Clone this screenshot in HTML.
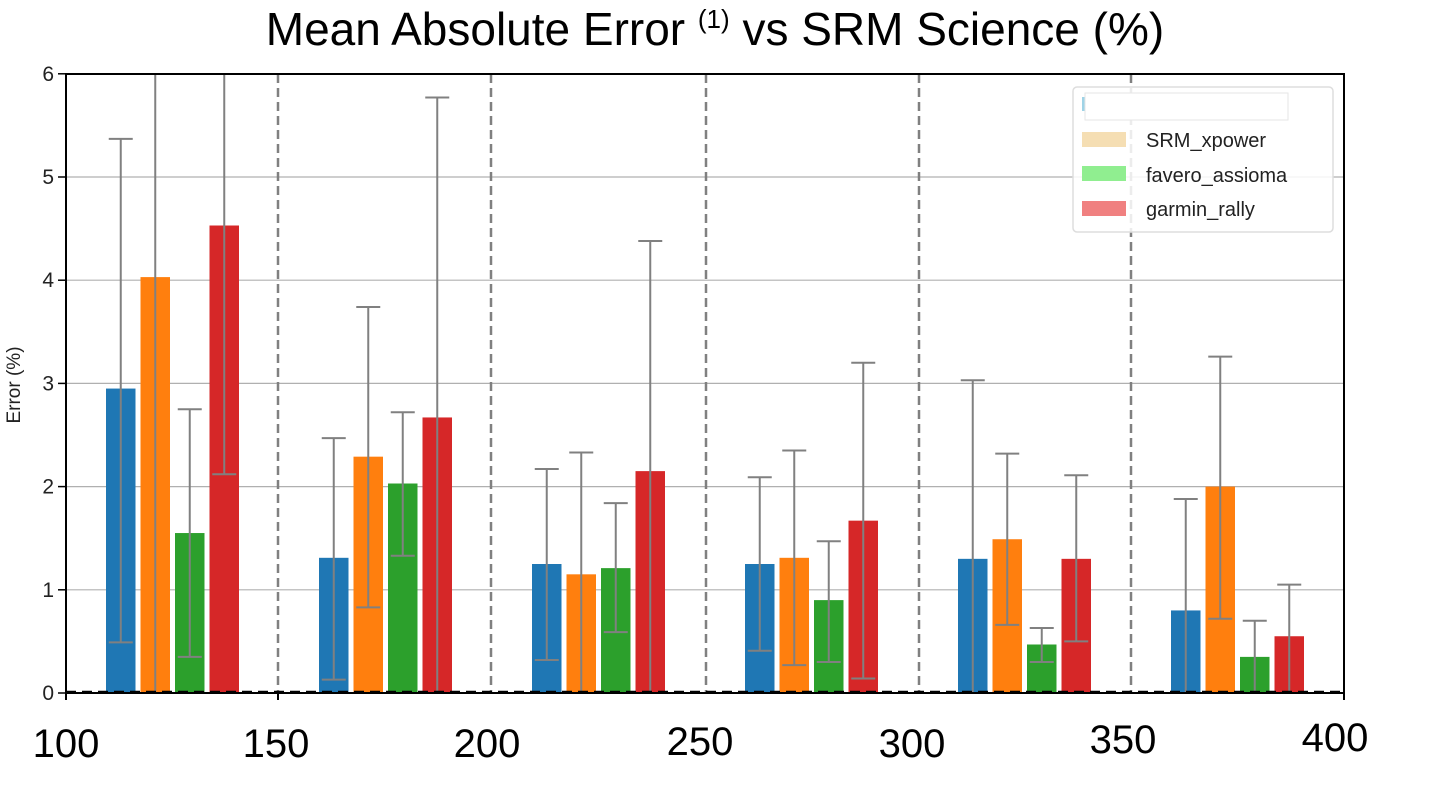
<!DOCTYPE html>
<html><head><meta charset="utf-8"><style>
html,body{margin:0;padding:0;background:#fff;}
svg{display:block;}
</style></head><body>
<svg id="s" width="1432" height="786" xmlns="http://www.w3.org/2000/svg" font-family="Liberation Sans, DejaVu Sans, sans-serif">
<rect width="1432" height="786" fill="#fff"/>
<text x="715" y="45" font-size="46" text-anchor="middle" fill="#000">Mean Absolute Error <tspan font-size="26" dy="-17">(1)</tspan><tspan dy="17"> vs SRM Science (%)</tspan></text>
<g id="grid" stroke="#b0b0b0" stroke-width="1.2"></g>
<g id="vd" stroke="#808080" stroke-width="2.5" stroke-dasharray="9,5"></g>
<g id="bars"></g>
<g id="err" stroke="#808080" stroke-width="2" fill="none"></g>
<line x1="66" y1="692" x2="1344" y2="692" stroke="#000" stroke-width="2.5" stroke-dasharray="10,6"/>
<rect x="66" y="74" width="1278" height="619" fill="none" stroke="#000" stroke-width="2"/>
<g id="yt" font-size="21" fill="#222" text-anchor="end"></g>
<text transform="translate(20,385) rotate(-90)" font-size="19" text-anchor="middle" fill="#222">Error (%)</text>
<g font-size="40" fill="#000" text-anchor="middle">
<text x="66" y="757">100</text><text x="276" y="757">150</text><text x="487" y="757">200</text>
<text x="700" y="755">250</text><text x="912" y="757">300</text><text x="1123" y="753">350</text><text x="1335" y="751">400</text>
</g>
<rect x="1073" y="87" width="260" height="145" rx="4" fill="#fff" fill-opacity="0.85" stroke="#ddd" stroke-width="1.5"/>
<rect x="1082" y="97" width="4" height="14" fill="#9fd3e6"/>
<rect x="1085" y="93" width="203" height="27" fill="#fff" stroke="#e6e6e6"/>
<rect x="1082" y="132" width="44" height="15" fill="#f5deb3"/>
<rect x="1082" y="166" width="44" height="15" fill="#90ee90"/>
<rect x="1082" y="201" width="44" height="15" fill="#f08080"/>
<g font-size="20" fill="#222"><text x="1146" y="147">SRM_xpower</text><text x="1146" y="182">favero_assioma</text><text x="1146" y="216">garmin_rally</text></g>
<g stroke="#000" stroke-width="2"><line x1="66" y1="693" x2="66" y2="700"/><line x1="1344" y1="693" x2="1344" y2="700"/><line x1="278" y1="693" x2="278" y2="700"/></g>
</svg>
<script>
var NS="http://www.w3.org/2000/svg";
function Y(v){return 693-103.2*v;}
function el(p,t,a){var e=document.createElementNS(NS,t);for(var k in a)e.setAttribute(k,a[k]);document.getElementById(p).appendChild(e);return e;}
for(var i=1;i<=5;i++){el("grid","line",{x1:66,x2:1344,y1:Y(i),y2:Y(i)});}
for(var i=0;i<=6;i++){var t=el("yt","text",{x:54,y:Y(i)+7});t.textContent=i;el("yt","line",{x1:58,x2:66,y1:Y(i),y2:Y(i),stroke:"#000","stroke-width":1.5});}
[278,491,706,919,1131].forEach(function(x){el("vd","line",{x1:x,x2:x,y1:74,y2:693});});
var cols=["#1f77b4","#ff7f0e","#2ca02c","#d62728"];
var D=[
[[2.95,0.49,5.37],[4.03,0,6.2],[1.55,0.35,2.75],[4.53,2.12,6.2]],
[[1.31,0.13,2.47],[2.29,0.83,3.74],[2.03,1.33,2.72],[2.67,0,5.77]],
[[1.25,0.32,2.17],[1.15,0,2.33],[1.21,0.59,1.84],[2.15,0,4.38]],
[[1.25,0.41,2.09],[1.31,0.27,2.35],[0.9,0.3,1.47],[1.67,0.14,3.2]],
[[1.3,0,3.03],[1.49,0.66,2.32],[0.47,0.3,0.63],[1.3,0.5,2.11]],
[[0.8,0,1.88],[2.0,0.72,3.26],[0.35,0,0.7],[0.55,0,1.05]]];
for(var g=0;g<6;g++)for(var b=0;b<4;b++){
 var x=106+g*213+b*34.5, d=D[g][b];
 el("bars","rect",{x:x,y:Y(d[0]),width:29.5,height:693-Y(d[0]),fill:cols[b]});
 var cx=x+14.75, hi=Math.max(Y(d[2]),74);
 el("err","line",{x1:cx,x2:cx,y1:Math.min(Y(d[1]),692),y2:hi});
 if(d[1]>0)el("err","line",{x1:cx-12,x2:cx+12,y1:Y(d[1]),y2:Y(d[1])});
 if(d[2]<6)el("err","line",{x1:cx-12,x2:cx+12,y1:Y(d[2]),y2:Y(d[2])});
}
</script>
</body></html>
